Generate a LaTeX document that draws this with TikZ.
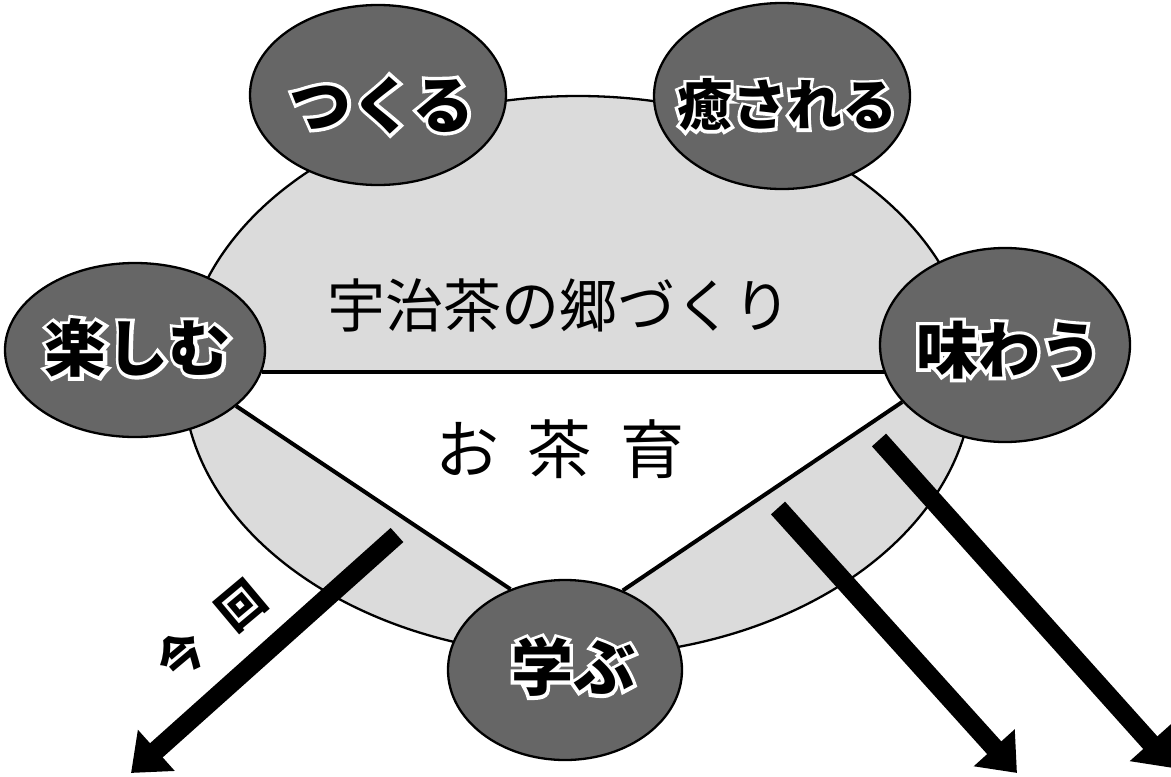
\documentclass[tikz,border=0pt]{standalone}
\usepackage{fontspec}
\newfontfamily\jp{Noto Sans CJK JP}
\newfontfamily\jphalo{Noto Sans CJK JP}[FakeBold=11]
\usetikzlibrary{shapes.geometric,arrows.meta}
\pgfdeclarelayer{bg}
\pgfdeclarelayer{mid}
\pgfsetlayers{bg,mid,main}
\definecolor{bubble}{gray}{0.40}
\definecolor{field}{gray}{0.86}
\newcommand\halotxt[1]{%
  \rlap{\textcolor{white}{\jphalo\bfseries #1}}#1}
\begin{document}
\begin{tikzpicture}[x=1pt,y=-1pt,
  bub/.style={ellipse, draw=black, line width=2.3pt, fill=bubble, inner sep=0pt},
  bubtext/.style={font=\jp\bfseries\fontsize{62}{62}\selectfont, inner sep=0pt},
  link/.style={line width=4pt},
  bigarrow/.style={line width=19pt, -{Triangle[length=34pt,width=53pt]}},
]
\useasboundingbox (0,0) rectangle (1171,777);

\begin{pgfonlayer}{bg}
\fill[white] (0,0) rectangle (1171,777);
\node[ellipse, draw=black, line width=2.3pt, fill=field, inner sep=0pt,
      minimum width=790pt, minimum height=560pt] (field) at (578,376) {};
\end{pgfonlayer}

% bubbles
\node[bub, minimum width=256pt, minimum height=180pt] (tsukuru) at (378,95) {};
\node[bub, minimum width=256pt, minimum height=186pt] (iyasa) at (782,96) {};
\node[bub, minimum width=260pt, minimum height=174pt] (tano) at (135,350) {};
\node[bub, minimum width=250pt, minimum height=194pt] (aji) at (1005,345) {};
\node[bub, minimum width=234pt, minimum height=180pt] (mana) at (565,670) {};

\begin{pgfonlayer}{mid}
\fill[white] (tano.-10) -- (tano.-10 -| aji.209) -- (aji.209) -- (mana.54)
  -- (mana.center) -- (mana.124) -- (tano.-29) -- cycle;
\draw[link] (tano.-10) -- (tano.-10 -| aji.center);
\draw[link] (tano.-29) -- (mana.124);
\draw[link] (aji.209) -- (mana.54);
\end{pgfonlayer}

% bubble texts
\node[bubtext] (tsukuru-t) at (382,105) {\halotxt{つくる}};
\node[bubtext, font=\jp\bfseries\fontsize{55}{55}\selectfont] (iyasa-t) at (787,105) {\halotxt{癒される}};
\node[bubtext] (tano-t) at (138,348) {\halotxt{楽しむ}};
\node[bubtext] (aji-t) at (1009,350) {\halotxt{味わう}};
\node[bubtext] (mana-t) at (573,667) {\halotxt{学ぶ}};

% central texts
\node[font=\jp\fontsize{58}{58}\selectfont, inner sep=0pt] (title) at (559,305) {宇治茶の郷づくり};
\node[font=\jp\fontsize{64}{64}\selectfont, inner sep=0pt] (ocha) at (560,449) {お\hspace{29pt}茶\hspace{29pt}育};

% arrows
\coordinate (a1s) at (397,535);
\coordinate (a1e) at (131,773);
\coordinate (a2s) at (778,508);
\coordinate (a2e) at (1017,773);
\coordinate (a3s) at (879,440);
\coordinate (a3e) at (1173,768);
\draw[bigarrow] (a1s) -- (a1e);
\draw[bigarrow] (a2s) -- (a2e);
\draw[bigarrow] (a3s) -- (a3e);

\node[font=\jp\bfseries\fontsize{46}{46}\selectfont, rotate=40, inner sep=0pt] (konkai) at (211,630) {今\hspace{32pt}回};
\end{tikzpicture}
\end{document}
